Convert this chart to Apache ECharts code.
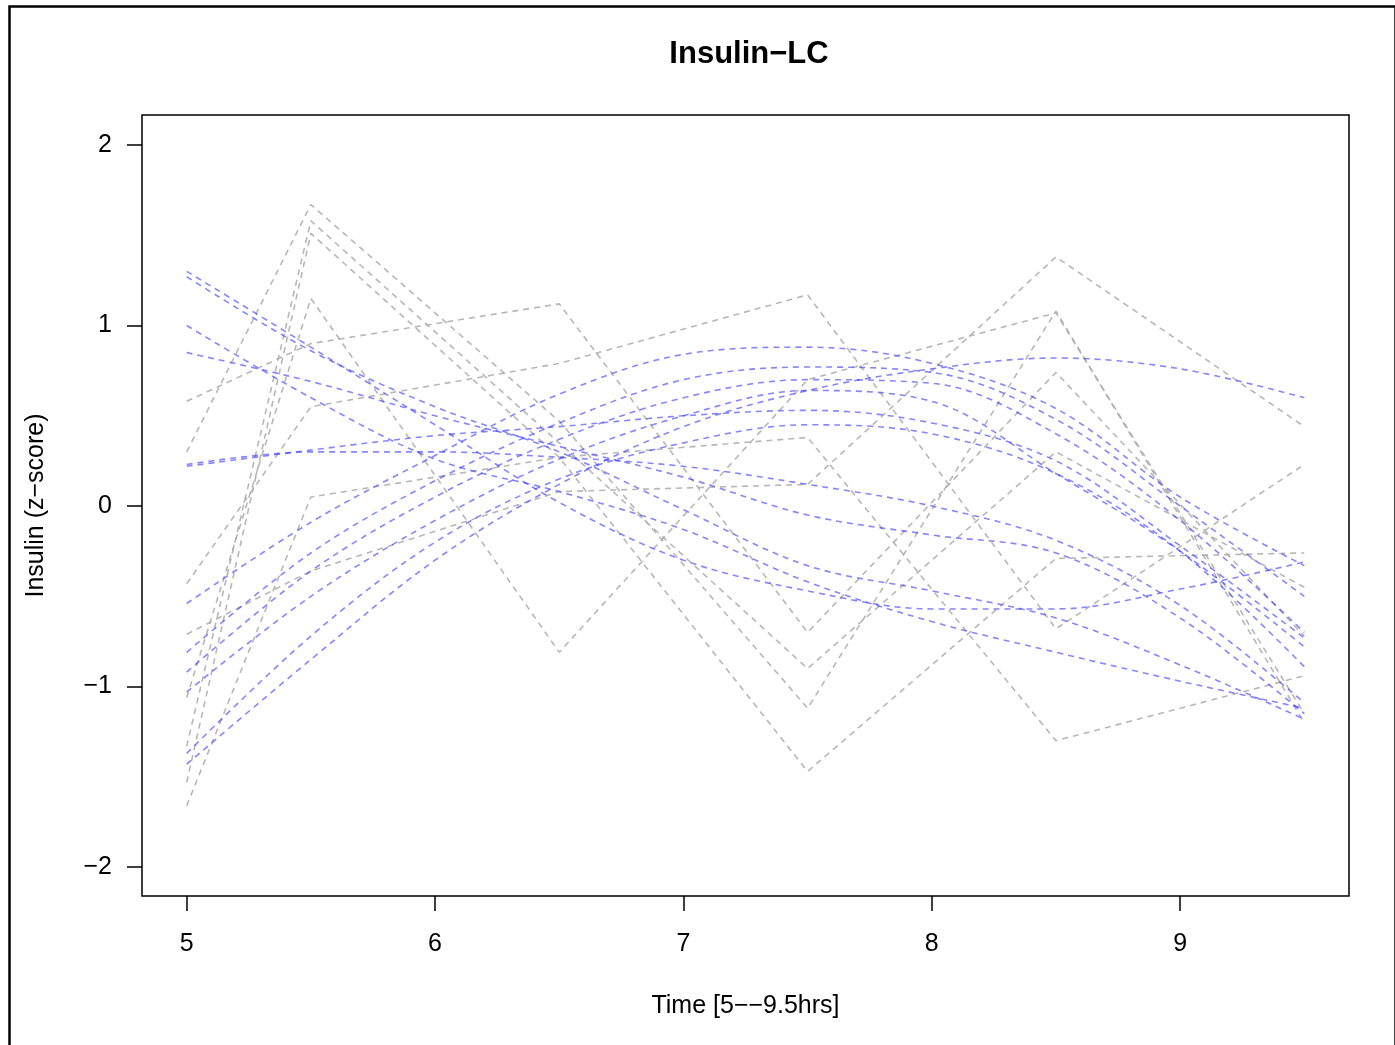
<!DOCTYPE html>
<html><head><meta charset="utf-8">
<script src="https://cdn.jsdelivr.net/npm/echarts@6/dist/echarts.min.js"></script>
<style>html,body{margin:0;padding:0;background:#fff}#c{width:1395px;height:1045px}</style>
</head><body><div id="c"></div><script>
// grey observed profiles (time points)
const greyX = [5, 5.5, 6.5, 7.5, 8.5, 9.5];
const grey1 = [0.30, 1.67, 0.47, -1.12, 1.08, -1.20];
const grey2 = [-1.33, 1.58, 0.35, -0.90, 0.30, -0.45];
const grey3 = [-1.53, 1.51, 0.27, -1.47, -0.29, -0.26];
const grey4 = [-1.06, 1.15, -0.81, 0.70, 1.07, -1.15];
const grey5 = [0.58, 0.90, 1.12, -0.70, 0.74, -0.72];
const grey6 = [-0.43, 0.55, 0.79, 1.17, -0.68, 0.23];
const grey7 = [-1.66, 0.05, 0.27, 0.38, -1.30, -0.94];
const grey8 = [-0.71, -0.36, 0.08, 0.12, 1.38, 0.44];
const greyLines = [grey1, grey2, grey3, grey4, grey5, grey6, grey7, grey8];

// blue fitted curves
const blueX = [5, 5.5, 6, 6.5, 7, 7.5, 8, 8.5, 9, 9.5];
const blue1 = [1.30, 0.88, 0.45, 0.02, -0.30, -0.47, -0.57, -0.57, -0.46, -0.31];
const blue2 = [1.27, 0.86, 0.55, 0.30, -0.02, -0.33, -0.47, -0.62, -0.88, -1.18];
const blue3 = [1.00, 0.60, 0.26, 0.08, -0.13, -0.42, -0.64, -0.81, -0.97, -1.12];
const blue4 = [0.85, 0.69, 0.50, 0.33, 0.16, -0.05, -0.16, -0.26, -0.62, -1.15];
const blue5 = [0.23, 0.30, 0.30, 0.27, 0.22, 0.12, 0.00, -0.19, -0.55, -1.09];
const blue6 = [0.22, 0.31, 0.39, 0.44, 0.50, 0.53, 0.46, 0.25, -0.22, -0.73];
const blue7 = [-0.54, -0.09, 0.28, 0.62, 0.84, 0.88, 0.79, 0.54, 0.05, -0.33];
const blue8 = [-0.81, -0.26, 0.14, 0.46, 0.70, 0.77, 0.74, 0.48, 0.00, -0.50];
const blue9 = [-0.92, -0.36, 0.05, 0.37, 0.60, 0.70, 0.68, 0.40, -0.08, -0.70];
const blue10 = [-1.03, -0.50, -0.08, 0.26, 0.50, 0.64, 0.58, 0.18, -0.25, -0.78];
const blue11 = [-1.37, -0.72, -0.20, 0.15, 0.35, 0.45, 0.40, 0.18, -0.25, -0.89];
const blue12 = [-1.43, -0.85, -0.30, 0.12, 0.44, 0.64, 0.76, 0.82, 0.76, 0.60];
const blueLines = [blue1, blue2, blue3, blue4, blue5, blue6, blue7, blue8, blue9, blue10, blue11, blue12];

const xTicks = [5, 6, 7, 8, 9];
const yTicks = [-2, -1, 0, 1, 2];

const FONT = '"Liberation Sans", Arial, Helvetica, sans-serif';
const minus = v => String(v).replace('-', '\u2212');

const series = [];
greyLines.forEach((ys, i) => {
  series.push({
    type: 'line', name: 'grey' + (i + 1), symbol: 'none', silent: true,
    data: greyX.map((x, j) => [x, ys[j]]),
    lineStyle: { color: 'rgba(170,170,170,0.85)', width: 1.6, type: [6, 5] },
    z: 2
  });
});
blueLines.forEach((ys, i) => {
  series.push({
    type: 'line', name: 'blue' + (i + 1), symbol: 'none', silent: true, smooth: 0.35,
    data: blueX.map((x, j) => [x, ys[j]]),
    lineStyle: { color: 'rgba(60,60,255,0.62)', width: 1.6, type: [6, 5] },
    z: 3
  });
});

const chart = echarts.init(document.getElementById('c'), null, { renderer: 'canvas' });
chart.setOption({
  backgroundColor: '#fff',
  animation: false,
  title: {
    text: 'Insulin\u2212LC', left: 744, top: 34, textAlign: 'center',
    textStyle: { fontFamily: FONT, fontSize: 31, fontWeight: 'bold', color: '#000' }
  },
  grid: { left: 142, top: 115, width: 1207, height: 781, show: true, borderColor: '#000', borderWidth: 1.5, backgroundColor: 'transparent' },
  xAxis: {
    type: 'value', min: 4.82, max: 9.68,
    name: 'Time [5\u2212\u22129.5hrs]', nameLocation: 'middle', nameGap: 98,
    nameTextStyle: { fontFamily: FONT, fontSize: 25, color: '#000' },
    axisLine: { show: false, onZero: false },
    axisTick: { show: true, customValues: xTicks, length: 15, inside: false, lineStyle: { color: '#000', width: 1.5 } },
    axisLabel: { show: true, customValues: xTicks, margin: 36, fontFamily: FONT, fontSize: 25, color: '#000', formatter: minus },
    splitLine: { show: false }
  },
  yAxis: {
    type: 'value', min: -2.16, max: 2.166,
    name: 'Insulin (z\u2212score)', nameLocation: 'middle', nameGap: 93, nameRotate: 90,
    nameTextStyle: { fontFamily: FONT, fontSize: 25, color: '#000' },
    axisLine: { show: false, onZero: false },
    axisTick: { show: true, customValues: yTicks, length: 15, inside: false, lineStyle: { color: '#000', width: 1.5 } },
    axisLabel: { show: true, customValues: yTicks, margin: 30, fontFamily: FONT, fontSize: 25, color: '#000', formatter: minus },
    splitLine: { show: false }
  },
  graphic: [{
    type: 'rect', left: 7, top: 4, silent: true,
    shape: { x: 0, y: 0, width: 1386, height: 1100 },
    style: { fill: 'none', stroke: '#000', lineWidth: 2.5 }
  }],
  series: series
});
</script></body></html>
